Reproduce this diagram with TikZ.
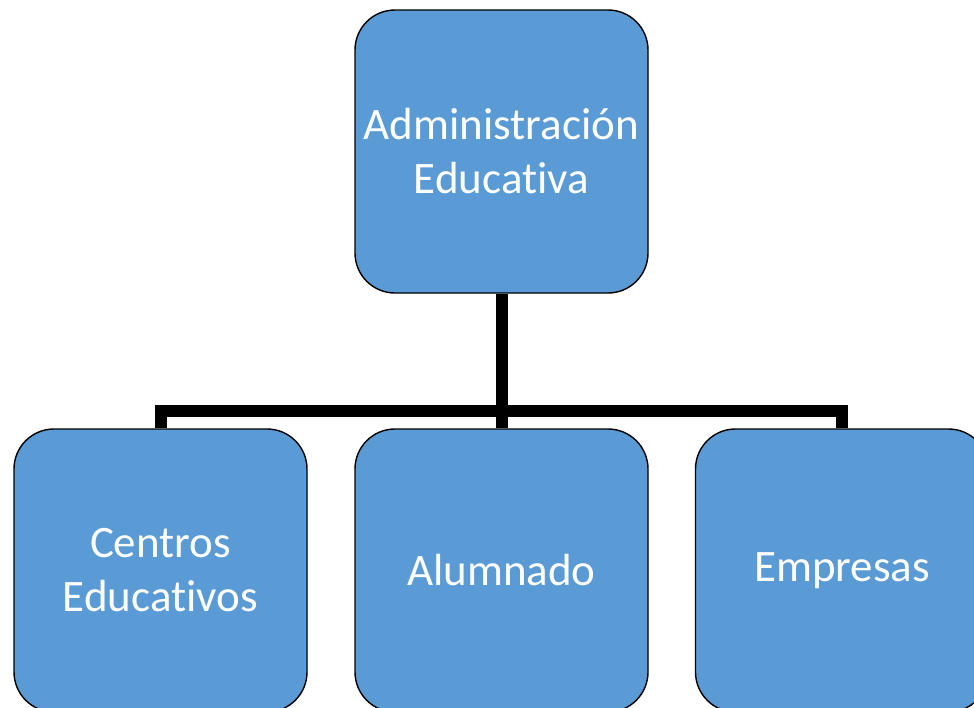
\documentclass[tikz,border=0pt]{standalone}
\usepackage{fontspec}
\setmainfont[Ligatures=NoCommon]{Carlito}
\definecolor{cajaazul}{HTML}{5B9BD5}
\begin{document}
\begin{tikzpicture}[x=1pt, y=-1pt, thick,
    main node/.style={rectangle, rounded corners=40pt, draw=black, line width=1.4pt, fill=cajaazul,
        minimum width=293pt, minimum height=283pt, align=center, text=white,
        font=\fontsize{45}{54}\selectfont},
    conector/.style={line width=12pt, draw=black}]

    \useasboundingbox (0, 0) rectangle (974, 707);
    \clip (0, 0) rectangle (974, 707);

    \node[main node] at (501.5, 151.5) (admin) {Administración\\Educativa};
    \node[main node] at (160.5, 570.5) (centros) {Centros\\Educativos};
    \node[main node] at (501.5, 570.5) (alumnado) {Alumnado};
    \node[main node] at (842, 570.5) (empresas) {Empresas};

    \coordinate (barra) at (501.5, 411);

    \draw[conector] (admin.south) -- (barra) -| (centros.north);
    \draw[conector] (barra) -- (alumnado.north);
    \draw[conector] (barra) -| (empresas.north);

\end{tikzpicture}
\end{document}
